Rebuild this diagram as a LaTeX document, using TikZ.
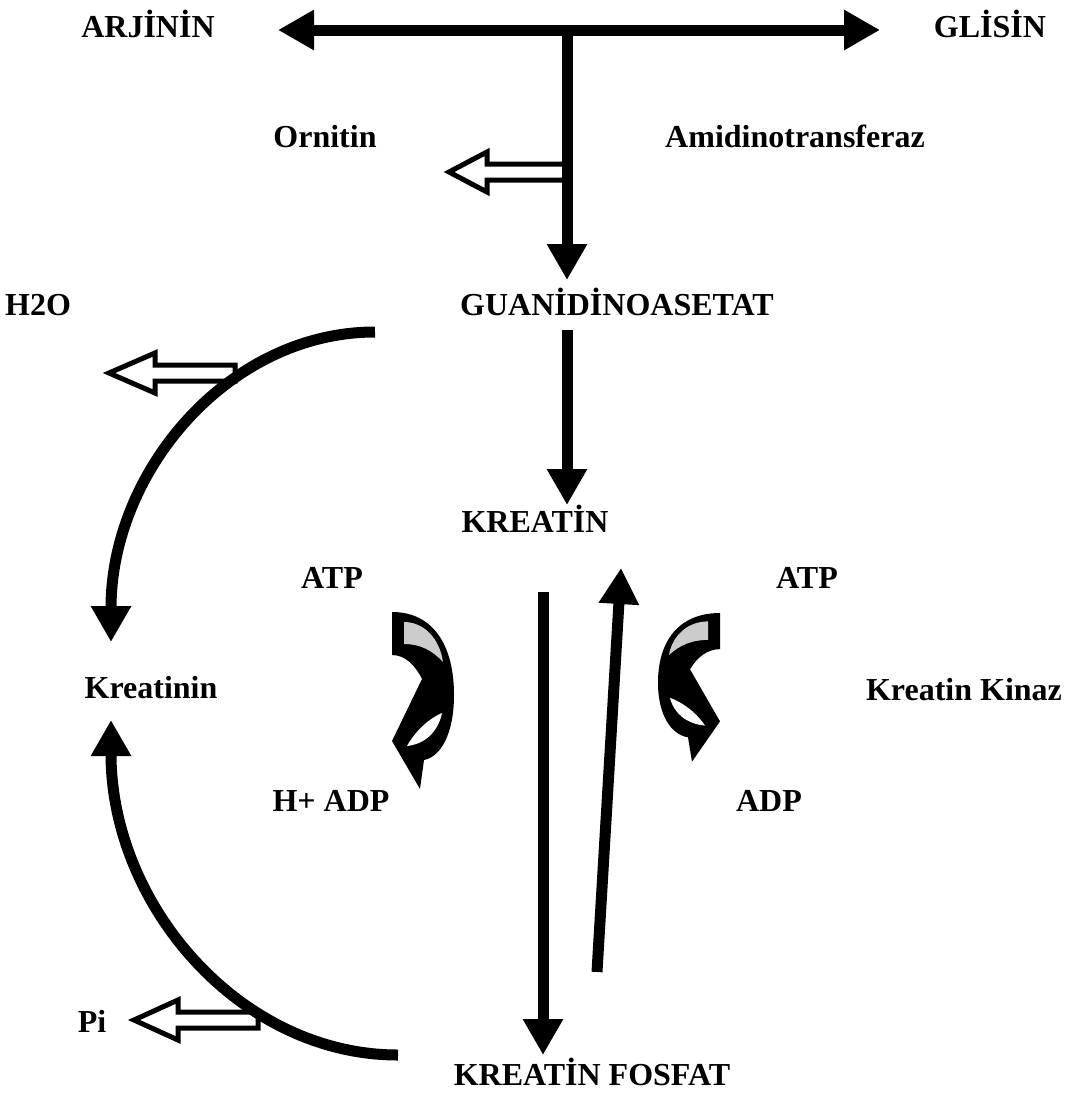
\documentclass[tikz,border=0pt]{standalone}
\usepackage{fontspec}
\setmainfont{Liberation Serif}
\usetikzlibrary{arrows.meta}
\usetikzlibrary{calc}

\begin{document}
\begin{tikzpicture}[x=1pt, y=-1pt,
    every node/.style={font=\fontsize{32}{38}\selectfont\bfseries, text height=21pt, text depth=0pt, inner sep=0pt},
    bigarr/.style={line width=11pt, -{Triangle[length=36pt,width=38pt]}},
    pics/hollowarr/.style={code={
        \filldraw[fill=white, line width=5pt] (0,-8) -- (-80,-8) -- (-80,-20) -- (-#1,0) -- (-80,20) -- (-80,8) -- (0,8) -- cycle;
    }},
    pics/atpcurve/.style={code={
        \fill (0,0) .. controls (41,0) and (62,33) .. (62,83) .. controls (62,123) and (48,145) .. (32,148) -- (28,177) -- (0,129) -- (30,67) .. controls (23,53) and (13,43) .. (0,43) -- cycle;
        \fill[gray!40] (12,10) .. controls (33,10) and (48,28) .. (51,50) .. controls (40,38) and (28,32) .. (12,32) -- cycle;
        \fill[white] (15,134) .. controls (24,118) and (38,106) .. (50,101) .. controls (46,120) and (33,132) .. (15,134) -- cycle;
    }}]
    \useasboundingbox (0,0) rectangle (1072,1093);

    \node (arj) at (148,27) {ARJİNİN};
    \node (gli) at (990,27) {GLİSİN};
    \node (orn) at (325,137) {Ornitin};
    \node (amid) at (795,137) {Amidinotransferaz};
    \node (h2o) at (38,305) {H2O};
    \node (gua) at (617,305) {GUANİDİNOASETAT};
    \node (kre) at (535,522) {KREATİN};
    \node (atpl) at (332,578) {ATP};
    \node (atpr) at (807,578) {ATP};
    \node (kni) at (151,688) {Kreatinin};
    \node (kk) at (964,690) {Kreatin Kinaz};
    \node (hadp) at (331,801) {H+ ADP};
    \node (adp) at (769,801) {ADP};
    \node (pi) at (92,1022) {Pi};
    \node (kf) at (592,1075) {KREATİN FOSFAT};
    \coordinate (junc) at (567,30);

    \pic at (567,172) {hollowarr=118};
    \pic at (235,373) {hollowarr=126};
    \pic at (258,1020) {hollowarr=124};

    \draw[bigarr, {Triangle[length=36pt,width=38pt]}-{Triangle[length=36pt,width=38pt]}] ($(arj.center)+(130,3)$) -- ($(gli.center)+(-110,3)$);
    \draw[bigarr] (junc) -- ($(gua.center)+(-50,-25)$);
    \draw[bigarr] ($(gua.center)+(-50,25)$) -- ($(kre.center)+(32,-17)$);
    \draw[bigarr] ($(kre.center)+(8,70)$) -- ($(kf.center)+(-49,-20)$);
    \draw[bigarr] ($(kf.center)+(5,-103)$) -- ($(kre.center)+(86,46)$);
    \draw[bigarr] ($(gua.center)+(-242,27)$) .. controls (229,332) and (111,471) .. ($(kni.center)+(-40,-46)$);
    \draw[bigarr] ($(kf.center)+(-194,-20)$) .. controls (240,1055) and (111,905) .. ($(kni.center)+(-40,32)$);

    \pic at (392,612) {atpcurve};
    \pic[xscale=-1, yscale=0.84] at (720,613) {atpcurve};
\end{tikzpicture}
\end{document}
